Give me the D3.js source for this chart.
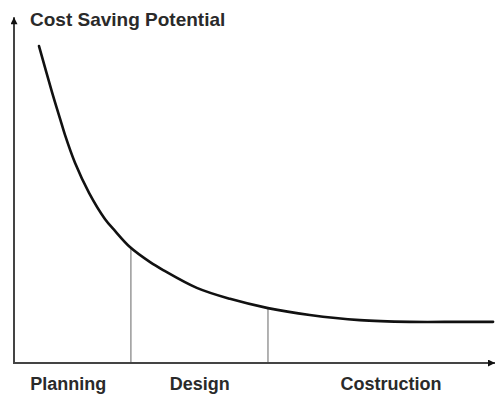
<!DOCTYPE html>
<html>
<head>
<meta charset="utf-8">
<script src="https://cdn.jsdelivr.net/npm/d3@7"></script>
<style>
  html, body { margin: 0; padding: 0; background: #fff; }
  svg { display: block; }
</style>
</head>
<body>
<svg id="chart"></svg>
<script>
// Project time (0-100) vs cost saving potential (0-100)
const curveX = [5.2, 7.9, 9.6, 10.6, 12.7, 15.6, 18.9, 21.0, 24.1, 28.3, 31.0, 38.0, 44.9, 52.8, 61.5, 71.9, 82.3, 92.7, 99.6];
const curveY = [92.4, 79.0, 71.1, 66.5, 58.3, 49.6, 42.0, 38.5, 33.8, 29.4, 27.1, 21.9, 18.7, 16.0, 14.0, 12.5, 12.0, 12.0, 12.0];

// phase boundaries and the curve value there
const phaseBounds = [24.3, 52.8];
const boundValues = [33.6, 16.0];

const phases = ["Planning", "Design", "Costruction"];
const phaseLabelAt = [11.3, 38.6, 78.4];

const yTitle = "Cost Saving Potential";

const width = 495, height = 397;

const svg = d3.select("#chart")
  .attr("width", width)
  .attr("height", height)
  .attr("viewBox", [0, 0, width, height]);

// Scales
const x = d3.scaleLinear().domain([0, 100]).range([14, 495]);
const y = d3.scaleLinear().domain([0, 100]).range([363, 20]);

const axisColor = "#444";

// Arrow markers
const defs = svg.append("defs");
defs.append("marker")
  .attr("id", "arrow")
  .attr("viewBox", "0 0 10 10")
  .attr("refX", 10)
  .attr("refY", 5)
  .attr("markerWidth", 9)
  .attr("markerHeight", 7)
  .attr("markerUnits", "userSpaceOnUse")
  .attr("orient", "auto")
  .append("path")
  .attr("d", "M0,0 L10,5 L0,10 Z")
  .attr("fill", "#111");

// Phase boundary lines
svg.append("g")
  .selectAll("line")
  .data(phaseBounds)
  .join("line")
  .attr("x1", d => x(d))
  .attr("x2", d => x(d))
  .attr("y1", y(0))
  .attr("y2", (d, i) => y(boundValues[i]))
  .attr("stroke", "#999")
  .attr("stroke-width", 1.5);

// Axes
svg.append("line")
  .attr("x1", x(0)).attr("x2", x(0))
  .attr("y1", y(0) + 1).attr("y2", y(100.8))
  .attr("stroke", axisColor)
  .attr("stroke-width", 2)
  .attr("marker-end", "url(#arrow)");

svg.append("line")
  .attr("x1", x(0) - 1).attr("x2", x(100))
  .attr("y1", y(0)).attr("y2", y(0))
  .attr("stroke", axisColor)
  .attr("stroke-width", 2)
  .attr("marker-end", "url(#arrow)");

// Curve
const points = curveX.map((d, i) => [d, curveY[i]]);
const line = d3.line()
  .x(d => x(d[0]))
  .y(d => y(d[1]))
  .curve(d3.curveCatmullRom.alpha(0.5));

svg.append("path")
  .datum(points)
  .attr("d", line)
  .attr("fill", "none")
  .attr("stroke", "#111")
  .attr("stroke-width", 2.6)
  .attr("stroke-linecap", "round");

// Title
svg.append("text")
  .attr("x", 30)
  .attr("y", 26)
  .attr("font-family", "Liberation Sans, Arial, sans-serif")
  .attr("font-weight", "bold")
  .attr("font-size", 19)
  .attr("fill", "#2a2a2a")
  .text(yTitle);

// Phase labels
svg.append("g")
  .selectAll("text")
  .data(phases)
  .join("text")
  .attr("x", (d, i) => x(phaseLabelAt[i]))
  .attr("y", 390)
  .attr("text-anchor", "middle")
  .attr("font-family", "Liberation Sans, Arial, sans-serif")
  .attr("font-weight", "bold")
  .attr("font-size", 18)
  .attr("fill", "#2a2a2a")
  .text(d => d);
</script>
</body>
</html>
